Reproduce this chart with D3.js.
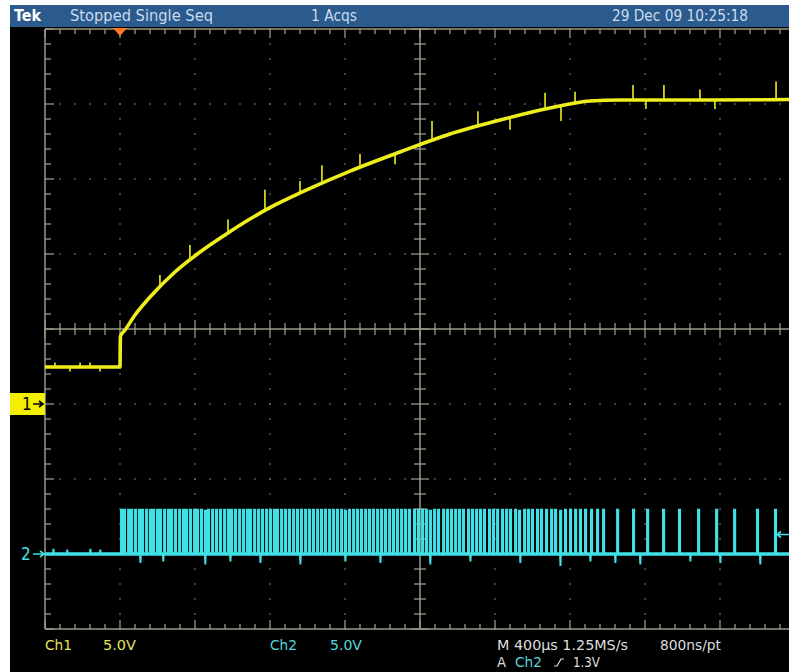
<!DOCTYPE html>
<html>
<head>
<meta charset="utf-8">
<script src="https://cdn.jsdelivr.net/npm/d3@7"></script>
<style>
  html, body { margin: 0; padding: 0; background: #fff; }
  svg { display: block; }
  text { font-family: "Liberation Sans Narrow", "DejaVu Sans Condensed", "Arial Narrow", sans-serif; }
</style>
</head>
<body>
<div class="scope"></div>
<script>
// ---- data (time in µs, volts) ----
const ch1Time  = [-400, 0, 2, 27, 80, 160, 293, 427, 560, 693, 827, 960, 1227, 1493, 1760, 2027, 2293, 2507, 2667, 3093, 3600];
const ch1Volts = [2.47, 2.47, 4.5, 4.93, 5.93, 7.13, 8.8, 10.13, 11.27, 12.33, 13.27, 14.07, 15.53, 16.8, 18.0, 18.93, 19.73, 20.2, 20.27, 20.27, 20.3];

// noise spikes on ch1 [time, delta volts]
const ch1Spikes = [[-347, 0.3], [-267, -0.3], [-213, 0.3], [-160, 0.3], [-107, -0.3],
  [213, 0.8], [373, 1.0], [576, 0.9], [773, 1.4], [960, 0.8], [1077, 1.2], [1280, 0.9],
  [1467, -0.7], [1664, 1.3], [1909, 1.0], [2080, -0.8], [2267, 1.1], [2352, -1.0],
  [2427, 0.8], [2736, 1.0], [2805, -0.6], [2901, 1.0], [3093, 0.7], [3173, -0.6], [3499, 1.2]];

// ch2 pulse start times
const ch2Pulses = [5, 21, 43, 59, 80, 101, 117, 139, 160, 176, 197, 213, 235, 256, 272, 293, 315, 336, 352, 373,
  395, 411, 432, 453, 469, 491, 512, 533, 555, 576, 592, 613, 635, 656, 677, 693, 715, 736, 757, 779,
  800, 821, 837, 859, 880, 901, 923, 944, 965, 987, 1008, 1029, 1051, 1072, 1093, 1115, 1136, 1157, 1179, 1200,
  1221, 1243, 1264, 1285, 1307, 1328, 1349, 1371, 1392, 1413, 1435, 1456, 1477, 1499, 1520, 1541, 1568, 1589, 1611, 1632,
  1653, 1675, 1696, 1723, 1744, 1765, 1787, 1808, 1829, 1856, 1877, 1899, 1920, 1941, 1968, 1989, 2011, 2037, 2059, 2080,
  2107, 2128, 2155, 2176, 2197, 2224, 2245, 2272, 2299, 2320, 2347, 2373, 2400, 2427, 2453, 2480, 2512, 2544, 2576,
  2651, 2736, 2811, 2896, 2981, 3083, 3179, 3275, 3397, 3493];
const ch2High = 2.95;
// glitches on ch2 baseline [time, delta volts]
const ch2Glitch = [[-357, 0.35], [-283, 0.3], [-160, 0.35], [-107, 0.3],
  [107, -0.6], [229, -0.5], [453, -0.7], [587, -0.5], [747, -0.6], [960, -0.7], [1200, -0.5],
  [1387, -0.6], [1653, -0.7], [1867, -0.5], [2133, -0.6], [2347, -0.8], [2507, -0.5], [2640, -0.6],
  [2773, -0.7], [3040, -0.5], [3200, -0.6], [3413, -0.7]];

const topTexts = [
  {t: "Stopped  Single Seq", x: 70, len: 143},
  {t: "1 Acqs", x: 311, len: 46},
  {t: "29 Dec 09 10:25:18", x: 612, len: 136}
];

const W = 789, H = 672;
const svg = d3.select(".scope").append("svg")
  .attr("width", W)
  .attr("height", H);

svg.append("rect").attr("width", W).attr("height", H).attr("fill", "#fff");
svg.append("rect").attr("x", 10).attr("y", 5).attr("width", W - 10).attr("height", H - 5).attr("fill", "#000");
svg.append("rect").attr("x", 10).attr("y", 5).attr("width", W - 10).attr("height", 22).attr("fill", "#2b5a8c");

// header
svg.append("text").attr("x", 14).attr("y", 21).attr("fill", "#fff")
  .attr("font-weight", "bold").attr("font-size", 15)
  .attr("textLength", 27).attr("lengthAdjust", "spacingAndGlyphs").text("Tek");
svg.selectAll(".hdr").data(topTexts).enter().append("text")
  .attr("x", d => d.x).attr("y", 21).attr("fill", "#c9dcf0").attr("font-size", 15)
  .attr("textLength", d => d.len).attr("lengthAdjust", "spacingAndGlyphs")
  .text(d => d.t);

// scales
const x = d3.scaleLinear().domain([-400, 3600]).range([45, 795]);
const yDiv = d3.scaleLinear().domain([4, -4]).range([29, 629]);
const y1 = d3.scaleLinear().domain([0, 5]).range([yDiv(-1), yDiv(0)]);
const y2 = d3.scaleLinear().domain([0, 5]).range([yDiv(-3), yDiv(-2)]);

svg.append("clipPath").attr("id", "clip")
  .append("rect").attr("x", 44).attr("y", 28).attr("width", W - 44).attr("height", 602);

const grid = svg.append("g").attr("clip-path", "url(#clip)");
const gridCol = "#9a9888";

const majX = d3.range(-400, 3601, 400);
const minX = d3.range(-400, 3601, 80);
const majY = d3.range(-4, 4.01, 1);
const minY = d3.range(-4, 4.01, 0.2);

// dotted interior grid
majX.slice(1, -1).forEach(t => {
  grid.selectAll(null).data(minY).enter().append("rect")
    .attr("x", x(t) - 0.75).attr("y", d => yDiv(d) - 0.75).attr("width", 1.5).attr("height", 1.5)
    .attr("fill", "#6e6e6a");
});
majY.slice(1, -1).forEach(v => {
  grid.selectAll(null).data(minX).enter().append("rect")
    .attr("x", d => x(d) - 0.75).attr("y", yDiv(v) - 0.75).attr("width", 1.5).attr("height", 1.5)
    .attr("fill", "#6e6e6a");
});

// frame
grid.append("line").attr("x1", x(-400)).attr("x2", x(3600)).attr("y1", yDiv(4)).attr("y2", yDiv(4)).attr("stroke", gridCol).attr("stroke-width", 1.5);
grid.append("line").attr("x1", x(-400)).attr("x2", x(3600)).attr("y1", yDiv(-4)).attr("y2", yDiv(-4)).attr("stroke", gridCol).attr("stroke-width", 1.5);
grid.append("line").attr("x1", x(-400)).attr("x2", x(-400)).attr("y1", yDiv(4)).attr("y2", yDiv(-4)).attr("stroke", gridCol).attr("stroke-width", 1.5);

// centre cross
grid.append("line").attr("x1", x(-400)).attr("x2", x(3600)).attr("y1", yDiv(0)).attr("y2", yDiv(0)).attr("stroke", gridCol).attr("stroke-width", 1.5);
grid.append("line").attr("x1", x(1600)).attr("x2", x(1600)).attr("y1", yDiv(4)).attr("y2", yDiv(-4)).attr("stroke", gridCol).attr("stroke-width", 1.5);

const isMajX = t => Math.abs((t + 400) % 400) < 1e-6;
const isMajY = v => Math.abs(v - Math.round(v)) < 1e-6;

// ticks along horizontal edges and centre
grid.selectAll(".tt").data(minX).enter().append("line")
  .attr("x1", d => x(d)).attr("x2", d => x(d))
  .attr("y1", yDiv(4)).attr("y2", d => yDiv(4) + (isMajX(d) ? 9 : 5))
  .attr("stroke", gridCol).attr("stroke-width", 1.3);
grid.selectAll(".tb").data(minX).enter().append("line")
  .attr("x1", d => x(d)).attr("x2", d => x(d))
  .attr("y1", yDiv(-4)).attr("y2", d => yDiv(-4) - (isMajX(d) ? 9 : 5))
  .attr("stroke", gridCol).attr("stroke-width", 1.3);
grid.selectAll(".tc").data(minX).enter().append("line")
  .attr("x1", d => x(d)).attr("x2", d => x(d))
  .attr("y1", d => yDiv(0) - (isMajX(d) ? 9 : 6)).attr("y2", d => yDiv(0) + (isMajX(d) ? 9 : 6))
  .attr("stroke", gridCol).attr("stroke-width", 1.3);

// ticks along vertical edge and centre
grid.selectAll(".tl").data(minY).enter().append("line")
  .attr("x1", x(-400)).attr("x2", d => x(-400) + (isMajY(d) ? 9 : 6))
  .attr("y1", d => yDiv(d)).attr("y2", d => yDiv(d))
  .attr("stroke", gridCol).attr("stroke-width", 1.3);
grid.selectAll(".tv").data(minY).enter().append("line")
  .attr("x1", d => x(1600) - (isMajY(d) ? 9 : 6)).attr("x2", d => x(1600) + (isMajY(d) ? 9 : 6))
  .attr("y1", d => yDiv(d)).attr("y2", d => yDiv(d))
  .attr("stroke", gridCol).attr("stroke-width", 1.3);

const traces = svg.append("g").attr("clip-path", "url(#clip)");

// ---- ch2 (cyan) ----
const pw = 6;
let ch2Pts = [[-400, 0]];
ch2Pulses.forEach(t => ch2Pts.push([t, 0], [t, ch2High], [t + pw, ch2High], [t + pw, 0]));
ch2Glitch.forEach(([t, dv]) => ch2Pts.push([t, 0], [t + 2, dv], [t + 4, 0]));
ch2Pts.push([3600, 0]);
ch2Pts.sort((a, b) => a[0] - b[0]);

const line2 = d3.line().x(d => x(d[0])).y(d => y2(d[1]));
traces.append("path").attr("d", line2(ch2Pts))
  .attr("fill", "none").attr("stroke", "#3fe0e6").attr("stroke-width", 2)
  .attr("stroke-linejoin", "miter");
traces.append("line")
  .attr("x1", x(-400)).attr("x2", x(3600)).attr("y1", y2(0)).attr("y2", y2(0))
  .attr("stroke", "#3fe0e6").attr("stroke-width", 3.5);

// ---- ch1 (yellow) ----
const ch1At = d3.scaleLinear().domain(ch1Time).range(ch1Volts);
const line1 = d3.line().x((d, i) => x(ch1Time[i])).y(d => y1(d)).curve(d3.curveMonotoneX);
traces.append("path").attr("d", line1(ch1Volts))
  .attr("fill", "none").attr("stroke", "#eeee1c").attr("stroke-width", 3.6);
traces.selectAll(".sp").data(ch1Spikes).enter().append("line")
  .attr("x1", d => x(d[0])).attr("x2", d => x(d[0]))
  .attr("y1", d => y1(ch1At(d[0]))).attr("y2", d => y1(ch1At(d[0]) + d[1]))
  .attr("stroke", "#eeee1c").attr("stroke-width", 1.6);

// trigger position marker
const tx = x(0);
svg.append("path")
  .attr("d", `M${tx - 7},${yDiv(4) - 1} L${tx + 7},${yDiv(4) - 1} L${tx},${yDiv(4) + 7} Z`)
  .attr("fill", "#ff7a22");

// ch1 ground marker
const g1 = y1(0);
svg.append("rect").attr("x", 10).attr("y", g1 - 11).attr("width", 35).attr("height", 22).attr("fill", "#f2f000");
svg.append("text").attr("x", 22).attr("y", g1 + 6).attr("font-size", 17).attr("fill", "#000").text("1");
svg.append("path").attr("d", `M33,${g1} L43,${g1} M39,${g1 - 3} L43,${g1} L39,${g1 + 3}`)
  .attr("stroke", "#000").attr("stroke-width", 1.6).attr("fill", "none");

// ch2 ground marker
const g2 = y2(0);
svg.append("text").attr("x", 21).attr("y", g2 + 6).attr("font-size", 17).attr("fill", "#3fe0e6").text("2");
svg.append("path").attr("d", `M33,${g2} L44,${g2} M40,${g2 - 3} L44,${g2} L40,${g2 + 3}`)
  .attr("stroke", "#3fe0e6").attr("stroke-width", 1.6).attr("fill", "none");

// trigger level marker (1.3 V on ch2)
const tl = y2(1.3);
svg.append("path").attr("d", `M777,${tl} L789,${tl} M781,${tl - 3} L777,${tl} L781,${tl + 3}`)
  .attr("stroke", "#3fe0e6").attr("stroke-width", 1.6).attr("fill", "none");

// ---- readouts ----
const yel = "#e4e45a", cy = "#54d6dc", wh = "#dedede";
const readouts = [
  {t: "Ch1", x: 45, y: 650, c: yel, len: 27},
  {t: "5.0V", x: 103, y: 650, c: yel, len: 33},
  {t: "Ch2", x: 270, y: 650, c: cy, len: 27},
  {t: "5.0V", x: 330, y: 650, c: cy, len: 32},
  {t: "M 400µs 1.25MS/s", x: 497, y: 650, c: wh, len: 131},
  {t: "800ns/pt", x: 660, y: 650, c: wh, len: 61},
  {t: "A", x: 497, y: 667, c: wh, len: 9},
  {t: "Ch2", x: 515, y: 667, c: cy, len: 27},
  {t: "1.3V", x: 573, y: 667, c: wh, len: 27}
];
svg.selectAll(".ro").data(readouts).enter().append("text")
  .attr("x", d => d.x).attr("y", d => d.y).attr("fill", d => d.c).attr("font-size", 13.5)
  .attr("textLength", d => d.len).attr("lengthAdjust", "spacingAndGlyphs")
  .text(d => d.t);
// rising-slope glyph
svg.append("path").attr("d", "M554,666 L557,666 L561,659 L564,659")
  .attr("stroke", wh).attr("stroke-width", 1.2).attr("fill", "none");
</script>
</body>
</html>
